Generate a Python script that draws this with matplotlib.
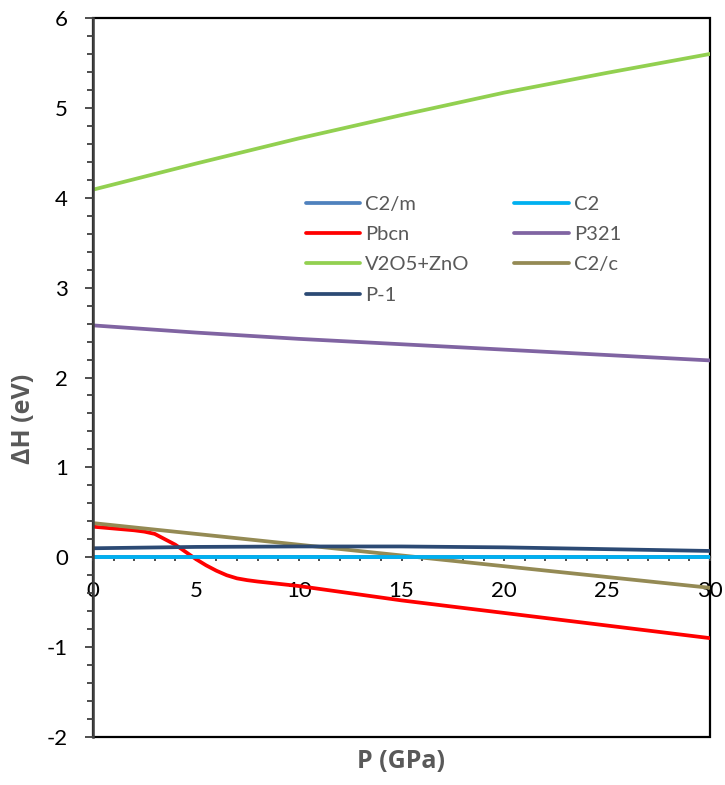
import matplotlib
matplotlib.use("Agg")
import matplotlib.pyplot as plt
from matplotlib.patches import Rectangle
from matplotlib.ticker import MultipleLocator

plt.rcParams['font.family'] = ['Lato', 'DejaVu Sans']

# Data
p_flat = [0, 30]
c2m = [0.0, 0.0]
c2 = [0.0, 0.0]

p_pbcn = [0, 1, 2, 2.5, 3, 3.5, 4, 4.5, 5, 5.5, 6, 6.5, 7, 7.5, 8, 9, 10, 15, 20, 25, 30]
pbcn = [0.34, 0.32, 0.30, 0.285, 0.26, 0.20, 0.14, 0.06, -0.02, -0.09, -0.15, -0.20,
        -0.235, -0.255, -0.27, -0.295, -0.32, -0.48, -0.62, -0.76, -0.90]

p_curve = [0, 5, 10, 15, 20, 25, 30]
p321 = [2.58, 2.50, 2.43, 2.37, 2.31, 2.25, 2.19]
v2o5_zno = [4.09, 4.38, 4.66, 4.92, 5.17, 5.39, 5.60]
c2c = [0.38, 0.26, 0.14, 0.02, -0.10, -0.22, -0.34]
pm1 = [0.10, 0.115, 0.12, 0.12, 0.11, 0.09, 0.07]

series = [
    ("C2/m", p_flat, c2m, "#4F81BD"),
    ("C2", p_flat, c2, "#00B0F0"),
    ("Pbcn", p_pbcn, pbcn, "#FF0000"),
    ("P321", p_curve, p321, "#8064A2"),
    ("V2O5+ZnO", p_curve, v2o5_zno, "#92D050"),
    ("C2/c", p_curve, c2c, "#948A54"),
    ("P-1", p_curve, pm1, "#2C4A74"),
]

fig = plt.figure(figsize=(7.25, 7.85), dpi=100)
ax = fig.add_axes([93/725, 48/785, (710-93)/725, (737-18)/785])

handles = {}
order_draw = ["C2/m", "Pbcn", "P321", "V2O5+ZnO", "C2/c", "P-1", "C2"]
sd = {s[0]: s for s in series}
for name in order_draw:
    _, x, y, c = sd[name]
    h, = ax.plot(x, y, color=c, lw=2.7, solid_capstyle='round',
                 solid_joinstyle='round', label=name, zorder=3)
    handles[name] = h

ax.set_xlim(0, 30)
ax.set_ylim(-2, 6)

# Frame
ax.add_patch(Rectangle((0, 0), 1, 1, transform=ax.transAxes, fill=False,
                       edgecolor='black', lw=1.6, zorder=1, clip_on=False))
ax.spines['top'].set_visible(False)
ax.spines['right'].set_visible(False)
ax.spines['bottom'].set_position(('data', 0))
ax.spines['bottom'].set_color('#404040')
ax.spines['bottom'].set_linewidth(1.6)
ax.spines['bottom'].set_zorder(2)
ax.spines['left'].set_color('#404040')
ax.spines['left'].set_linewidth(1.8)
ax.spines['left'].set_zorder(5)

ax.xaxis.set_major_locator(MultipleLocator(5))
ax.xaxis.set_minor_locator(MultipleLocator(1))
ax.yaxis.set_major_locator(MultipleLocator(1))
ax.yaxis.set_minor_locator(MultipleLocator(0.2))

ax.tick_params(axis='x', which='major', direction='out', length=3, width=1.3,
               color='#404040', pad=14, labelsize=16)
ax.tick_params(axis='x', which='minor', direction='out', length=3, width=1.3,
               color='#404040')
ax.tick_params(axis='y', which='major', direction='out', length=6, width=1.3,
               color='#404040', pad=12, labelsize=16)
ax.tick_params(axis='y', which='minor', direction='out', length=4.3, width=1.3,
               color='#404040')

ax.set_xticks([0, 5, 10, 15, 20, 25, 30])
ax.set_xticklabels(['0', '5', '10', '15', '20', '25', '30'])
ax.set_yticks([-2, -1, 0, 1, 2, 3, 4, 5, 6])
ax.set_yticklabels(['-2', '-1', '0', '1', '2', '3', '4', '5', '6'])

fig.text(401/725, 1 - 761/785, "P (GPa)", ha='center', va='center',
         fontsize=18, fontweight='bold', color='#595959',
         family=['Open Sans', 'DejaVu Sans'])
fig.text(24/725, 1 - 419/785, "ΔH (eV)", ha='center', va='center', rotation=90,
         fontsize=18, fontweight='bold', color='#595959',
         family=['Open Sans', 'DejaVu Sans'])

col1 = ["C2/m", "Pbcn", "V2O5+ZnO", "P-1"]
col2 = ["C2", "P321", "C2/c"]
hl = [handles[n] for n in col1 + col2]
ll = col1 + col2
leg = ax.legend(hl, ll, ncol=2, frameon=False, fontsize=14.5,
                loc='upper left', bbox_to_anchor=(213/617, 1 - 178/719),
                handlelength=2.7, handletextpad=0.25, columnspacing=2.2,
                labelspacing=0.65, borderaxespad=0, borderpad=0)
for t in leg.get_texts():
    t.set_color('#595959')

fig.savefig("out.png", dpi=100)
